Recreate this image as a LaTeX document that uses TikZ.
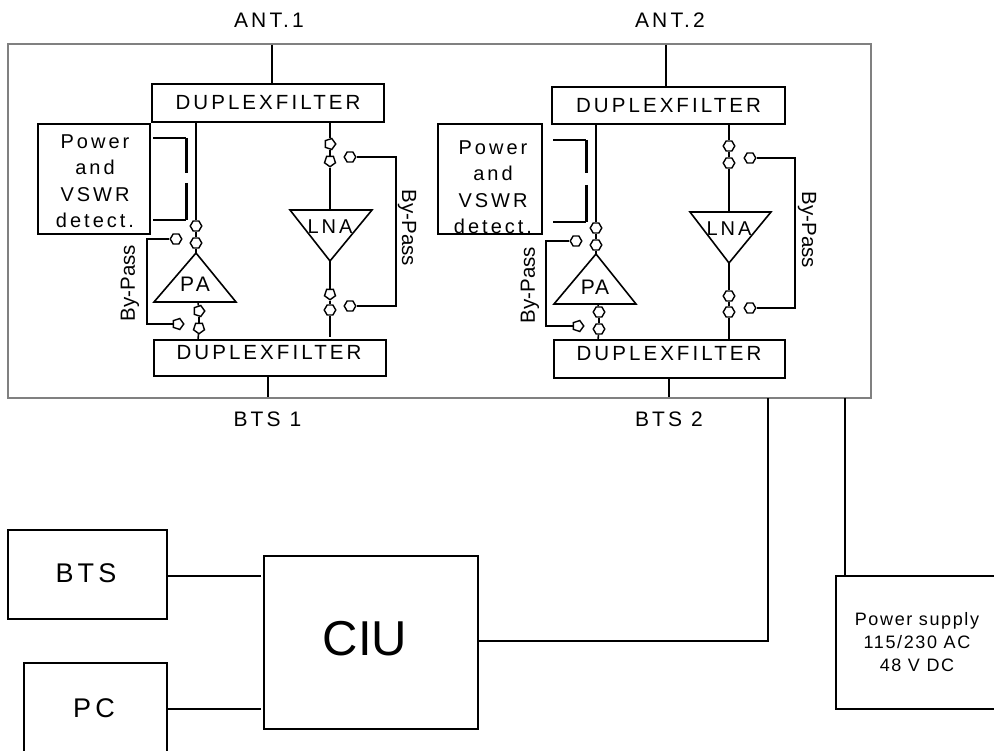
\documentclass[tikz,border=0pt]{standalone}
\usepackage{fontspec}
\setmainfont{Liberation Sans}
\newfontfamily\widefont[LetterSpace=15]{Liberation Sans}
\newfontfamily\midfont[LetterSpace=9]{Liberation Sans}
\usetikzlibrary{shapes.geometric}
\newcommand{\wtxt}[1]{\fontsize{#1}{26.5}\selectfont\widefont}
\newcommand{\mtxt}[1]{\fontsize{#1}{23}\selectfont\midfont}
\tikzset{
  wire/.style={line width=1.6pt,black},
  thickwire/.style={line width=3pt,black},
  frame/.style={draw=black!50,line width=1.5pt},
  boxshape/.style={draw=black,line width=1.6pt,rectangle,inner sep=0pt},
  plain/.style={inner sep=0pt,align=center},
  hexa/.style={draw=black,fill=white,line width=1.4pt,regular polygon,regular polygon sides=6,minimum size=11.5pt,inner sep=0pt},
  penta/.style={draw=black,fill=white,line width=1.4pt,regular polygon,regular polygon sides=5,minimum size=11.5pt,inner sep=0pt},
  ampshape/.style={draw=black,line width=1.6pt,line join=miter},
}
\begin{document}
\begin{tikzpicture}[x=1pt,y=-1pt]
\useasboundingbox (0,0) rectangle (994,751);
% main frame
\node[frame,rectangle,inner sep=0pt,minimum width=863pt,minimum height=354pt] (main) at (439.5,221) {};
% labels outside
\node[plain,font=\wtxt{21}] (ant1) at (269,20) {ANT.1};
\node[plain,font=\wtxt{21}] (ant2) at (670,20) {ANT.2};
\node[plain,font=\wtxt{21}] (bts1l) at (267.5,419) {BTS 1};
\node[plain,font=\wtxt{21}] (bts2l) at (669,419) {BTS 2};

%--- channel 1
\node[boxshape,minimum width=232pt,minimum height=38pt,font=\wtxt{20.5}] (dtop1) at (268,103) {DUPLEXFILTER};
\node[boxshape,minimum width=232pt,minimum height=36pt] (dbot1) at (270,358) {};
\node[plain,font=\wtxt{20.5}] (dbot1t) at (269,353) {DUPLEXFILTER};
\node[boxshape,minimum width=112pt,minimum height=110pt] (pw1) at (94,179) {};
\node[plain,font=\wtxt{20}] (pw1t) at (95,181) {Power\\and\\VSWR\\detect.};
\coordinate (a1) at (272,44.7); \coordinate (a1b) at (272,84);
\draw[wire] (a1) -- (a1b);
\coordinate (b1a) at (268,376); \coordinate (b1b) at (268,397);
\draw[wire] (b1a) -- (b1b);
% coupler
\coordinate (c1a) at (153,138); \coordinate (c1b) at (186,138); \coordinate (c1c) at (186,173);
\coordinate (c1d) at (186,183); \coordinate (c1e) at (186,220); \coordinate (c1f) at (153,220);
\draw[wire] (c1a) -- (c1b); \draw[wire] (c1f) -- (c1e);
\draw[thickwire] (c1b) -- (c1c); \draw[thickwire] (c1d) -- (c1e);
% PA
\coordinate (pa1t) at (196,253); \coordinate (pa1l) at (154,302); \coordinate (pa1r) at (236,302);
\draw[ampshape] (pa1t) -- (pa1l) -- (pa1r) -- cycle;
\node[plain,font=\wtxt{21}] (pa1) at (195,284) {PA};
\coordinate (p1u) at (196,122); \coordinate (p1o) at (198,302); \coordinate (p1d) at (198,340);
\node[hexa] (s1a) at (196,226) {};
\node[hexa] (s1b) at (196,243) {};
\draw[wire] (p1u) -- (s1a); \draw[wire] (s1a) -- (s1b); \draw[wire] (s1b) -- (pa1t);
\node[penta,shape border rotate=-90] (s1c) at (199,311) {};
\node[penta,shape border rotate=180] (s1d) at (199,328) {};
\draw[wire] (p1o) -- (s1c); \draw[wire] (s1c) -- (s1d); \draw[wire] (s1d) -- (p1d);
\node[hexa] (s1e) at (176,239) {};
\node[penta,shape border rotate=-90] (s1f) at (178,324) {};
\coordinate (bp1a) at (147,239); \coordinate (bp1b) at (147,324);
\draw[wire] (s1e) -- (bp1a) -- (bp1b) -- (s1f);
\node[plain,rotate=90,font=\fontsize{20.5}{22}\selectfont] (bp1l) at (130,283) {By-Pass};
% LNA
\coordinate (ln1b) at (330,261); \coordinate (ln1l) at (290,210); \coordinate (ln1r) at (372,210);
\draw[ampshape] (ln1b) -- (ln1l) -- (ln1r) -- cycle;
\node[plain,font=\wtxt{20}] (ln1) at (330,227) {LNA};
\coordinate (l1u) at (330,122); \coordinate (l1t) at (330,210); \coordinate (l1d) at (330,337);
\node[penta,shape border rotate=-90] (s1g) at (330,144) {};
\node[penta,shape border rotate=180] (s1h) at (330,161) {};
\draw[wire] (l1u) -- (s1g); \draw[wire] (s1g) -- (s1h); \draw[wire] (s1h) -- (l1t);
\node[penta,shape border rotate=180] (s1i) at (330,294) {};
\node[hexa] (s1j) at (330,310) {};
\draw[wire] (ln1b) -- (s1i); \draw[wire] (s1i) -- (s1j); \draw[wire] (s1j) -- (l1d);
\node[hexa] (s1k) at (350,157) {};
\node[hexa] (s1m) at (350,306) {};
\coordinate (bl1a) at (396,157); \coordinate (bl1b) at (396,306);
\draw[wire] (s1k) -- (bl1a) -- (bl1b) -- (s1m);
\node[plain,rotate=-90,font=\fontsize{20.5}{22}\selectfont] (bl1l) at (407,228) {By-Pass};

%--- channel 2
\node[boxshape,minimum width=233pt,minimum height=37pt,font=\wtxt{20.5}] (dtop2) at (668.5,105.5) {DUPLEXFILTER};
\node[boxshape,minimum width=231pt,minimum height=38pt] (dbot2) at (669.5,359) {};
\node[plain,font=\wtxt{20.5}] (dbot2t) at (669,354) {DUPLEXFILTER};
\node[boxshape,minimum width=104pt,minimum height=110pt] (pw2) at (490,179) {};
\node[plain,font=\wtxt{20}] (pw2t) at (493,187) {Power\\and\\VSWR\\detect.};
\coordinate (a2) at (666,44.7); \coordinate (a2b) at (666,87);
\draw[wire] (a2) -- (a2b);
\coordinate (b2a) at (669,378); \coordinate (b2b) at (669,397);
\draw[wire] (b2a) -- (b2b);
\coordinate (c2a) at (553,140); \coordinate (c2b) at (586,140); \coordinate (c2c) at (586,173);
\coordinate (c2d) at (586,185); \coordinate (c2e) at (586,222); \coordinate (c2f) at (553,222);
\draw[wire] (c2a) -- (c2b); \draw[wire] (c2f) -- (c2e);
\draw[thickwire] (c2b) -- (c2c); \draw[thickwire] (c2d) -- (c2e);
\coordinate (pa2t) at (596,254); \coordinate (pa2l) at (554,304); \coordinate (pa2r) at (636,304);
\draw[ampshape] (pa2t) -- (pa2l) -- (pa2r) -- cycle;
\node[plain,font=\fontsize{21}{22}\selectfont\midfont] (pa2) at (595,287) {PA};
\coordinate (p2u) at (596,124); \coordinate (p2o) at (598,304); \coordinate (p2d) at (598,340);
\node[hexa] (s2a) at (596,228) {};
\node[hexa] (s2b) at (596,245) {};
\draw[wire] (p2u) -- (s2a); \draw[wire] (s2a) -- (s2b); \draw[wire] (s2b) -- (pa2t);
\node[hexa] (s2c) at (599,312) {};
\node[hexa] (s2d) at (599,329) {};
\draw[wire] (p2o) -- (s2c); \draw[wire] (s2c) -- (s2d); \draw[wire] (s2d) -- (p2d);
\node[hexa] (s2e) at (576,241) {};
\node[penta,shape border rotate=-90] (s2f) at (578,326) {};
\coordinate (bp2a) at (546,241); \coordinate (bp2b) at (546,326);
\draw[wire] (s2e) -- (bp2a) -- (bp2b) -- (s2f);
\node[plain,rotate=90,font=\fontsize{20.5}{22}\selectfont] (bp2l) at (530,285) {By-Pass};
\coordinate (ln2b) at (729,263); \coordinate (ln2l) at (690,212); \coordinate (ln2r) at (771,212);
\draw[ampshape] (ln2b) -- (ln2l) -- (ln2r) -- cycle;
\node[plain,font=\wtxt{20}] (ln2) at (729,229) {LNA};
\coordinate (l2u) at (729,124); \coordinate (l2t) at (729,212); \coordinate (l2d) at (729,340);
\node[hexa] (s2g) at (729,146) {};
\node[hexa] (s2h) at (729,163) {};
\draw[wire] (l2u) -- (s2g); \draw[wire] (s2g) -- (s2h); \draw[wire] (s2h) -- (l2t);
\node[hexa] (s2i) at (729,296) {};
\node[hexa] (s2j) at (729,312) {};
\draw[wire] (ln2b) -- (s2i); \draw[wire] (s2i) -- (s2j); \draw[wire] (s2j) -- (l2d);
\node[hexa] (s2k) at (750,158) {};
\node[hexa] (s2m) at (750,308) {};
\coordinate (bl2a) at (795,158); \coordinate (bl2b) at (795,308);
\draw[wire] (s2k) -- (bl2a) -- (bl2b) -- (s2m);
\node[plain,rotate=-90,font=\fontsize{20.5}{22}\selectfont] (bl2l) at (807,230) {By-Pass};

%--- lower part
\node[boxshape,minimum width=214pt,minimum height=173pt] (ciu) at (371,642.5) {};
\node[plain,font=\fontsize{49}{50}\selectfont] (ciut) at (365,639) {CIU};
\node[boxshape,minimum width=159pt,minimum height=89pt] (bts) at (87.5,574.5) {};
\node[plain,font=\wtxt{27}] (btst) at (86,573) {BTS};
\coordinate (pctl) at (24,663); \coordinate (pctr) at (167,663);
\coordinate (pcbl) at (24,751); \coordinate (pcbr) at (167,751);
\draw[wire] (pcbl) -- (pctl) -- (pctr) -- (pcbr);
\node[plain,font=\wtxt{27}] (pc) at (94,708) {PC};
\coordinate (psbr) at (994,709); \coordinate (pstr) at (994,576);
\coordinate (pstl) at (836,576); \coordinate (psbl) at (836,709);
\draw[wire] (pstr) -- (pstl) -- (psbl) -- (psbr);
\node[plain,font=\mtxt{18}] (ps) at (917,642.5) {Power supply\\115/230 AC\\48 V DC};
\coordinate (btsin) at (261,576); \coordinate (pcin) at (261,709); \coordinate (pcout) at (167,709);
\draw[wire] (bts.east |- btsin) -- (btsin);
\draw[wire] (pcout) -- (pcin);
\coordinate (up1) at (768,398); \coordinate (up1c) at (768,641);
\draw[wire] (ciu.east |- up1c) -- (up1c) -- (up1);
\coordinate (up2) at (845,398); \coordinate (up2d) at (845,576);
\draw[wire] (up2) -- (up2d);
\end{tikzpicture}
\end{document}
